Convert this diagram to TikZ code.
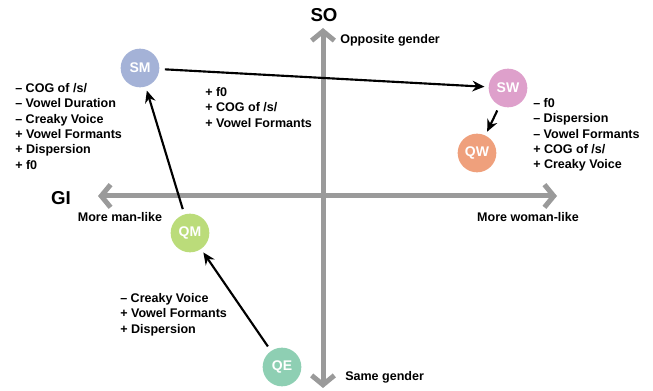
\documentclass[tikz,border=0pt]{standalone}
\usepackage{fontspec}
\setmainfont{Liberation Sans}
\usetikzlibrary{arrows.meta}
\definecolor{axisgray}{HTML}{9A9A9A}
\definecolor{smcol}{HTML}{A4B2D7}
\definecolor{swcol}{HTML}{DEA0CB}
\definecolor{qwcol}{HTML}{EFA07C}
\definecolor{qmcol}{HTML}{BBDC7A}
\definecolor{qecol}{HTML}{8ECFB3}
\begin{document}
\begin{tikzpicture}[x=0.75pt, y=-0.75pt,
  spk/.style={circle, minimum size=29pt, inner sep=0pt, text=white, font=\bfseries\fontsize{10.5}{12}\selectfont},
  gaxis/.style={line width=3.75pt, color=axisgray, {Straight Barb[length=7pt, width=17pt]}-{Straight Barb[length=7pt, width=17pt]}},
  move/.style={line width=1.6pt, -{Stealth[length=9pt, width=8pt]}, shorten <=4pt, shorten >=3pt},
  feat/.style={anchor=north west, align=left, inner sep=0pt, font=\bfseries\fontsize{9.4}{11.5}\selectfont},
  lbl/.style={inner sep=0pt, font=\bfseries\fontsize{9.4}{11}\selectfont},
  axname/.style={inner sep=0pt, font=\bfseries\fontsize{14}{16}\selectfont}]
\useasboundingbox (0,0) rectangle (653,391);
%\draw[very thin,color=gray] (0,0) grid[step=50] (653,391);

% axes
\coordinate (top) at (323,28);
\coordinate (bottom) at (323,388);
\coordinate (left) at (98,196);
\coordinate (right) at (557,196);
\draw[gaxis] (bottom) -- (top);
\draw[gaxis] (left) -- (right);

\node[axname] (so) at (324,15) {SO};
\node[axname] (gi) at (61,198) {GI};
\node[lbl, anchor=west] (opp) at (340,40) {Opposite gender};
\node[lbl, anchor=west] (same) at (345,377) {Same gender};
\node[lbl] (man) at (120,217) {More man-like};
\node[lbl] (woman) at (528,217) {More woman-like};

% speakers
\node[spk, fill=smcol] (SM) at (140,68) {SM};
\node[spk, fill=swcol] (SW) at (508,88) {SW};
\node[spk, fill=qwcol] (QW) at (477,153) {QW};
\node[spk, fill=qmcol] (QM) at (190,233) {QM};
\node[spk, fill=qecol] (QE) at (282,367) {QE};

\draw[move] (SM) -- (SW);
\draw[move] (SW) -- (QW);
\draw[move] (QM) -- (SM);
\draw[move] (QE) -- (QM);

% features
\node[feat] (smfeat) at (15,83) {– COG of /s/\\– Vowel Duration\\– Creaky Voice\\+ Vowel Formants\\+ Dispersion\\+ f0};
\node[feat] (swfeat) at (205,87) {+ f0\\+ COG of /s/\\+ Vowel Formants};
\node[feat] (qwfeat) at (533,98) {– f0\\– Dispersion\\– Vowel Formants\\+ COG of /s/\\+ Creaky Voice};
\node[feat] (qmfeat) at (120,293) {– Creaky Voice\\+ Vowel Formants\\+ Dispersion};

\end{tikzpicture}
\end{document}
